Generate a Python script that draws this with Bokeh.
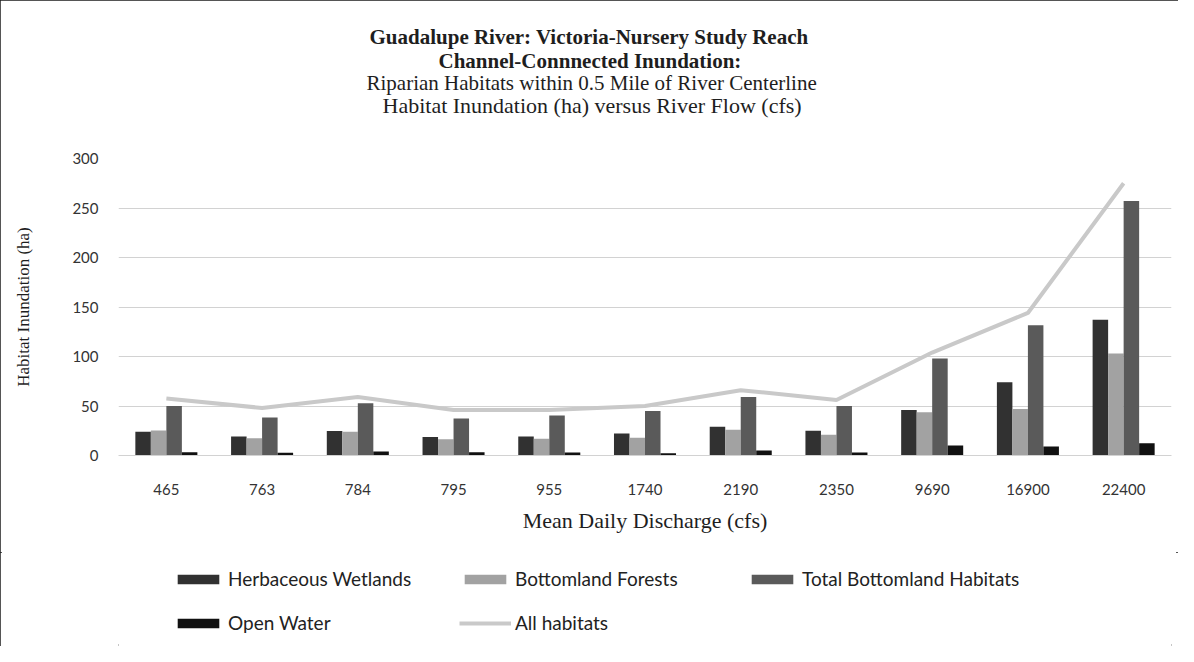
from bokeh.plotting import figure
from bokeh.layouts import column
from bokeh.models import (ColumnDataSource, FactorRange, Range1d, Title, Legend,
                          LegendItem, FixedTicker)
from bokeh.transform import dodge
from bokeh.embed import file_html
from bokeh.resources import INLINE

# ---- data ----
flows = ["465", "763", "784", "795", "955", "1740", "2190", "2350", "9690", "16900", "22400"]
herbaceous_wetlands = [24, 19.3, 24.7, 18.7, 19.3, 22.3, 29, 25, 46, 74, 137]
bottomland_forests = [25.3, 17.3, 24, 16.3, 17, 18, 26, 21, 43.6, 47, 103]
total_bottomland = [50, 38.3, 52.7, 37.3, 40.3, 45, 59, 50, 98, 131.5, 257]
open_water = [3.3, 2.7, 4, 3.3, 3, 2.3, 5, 3, 10, 9, 12.4]
all_habitats = [57.5, 48, 59, 46, 46, 50, 66, 56, 104, 144, 275]
y_ticks = [0, 50, 100, 150, 200, 250, 300]

series_names = ["Herbaceous Wetlands", "Bottomland Forests", "Total Bottomland Habitats",
                "Open Water", "All habitats"]
bar_colors = ["#313131", "#a2a2a2", "#5a5a5a", "#111111"]
line_color = "#c9c9c9"

src = ColumnDataSource(dict(flow=flows, hw=herbaceous_wetlands, bf=bottomland_forests,
                            tb=total_bottomland, ow=open_water, ah=all_habitats))

SERIF = "Liberation Serif"
SANS = "Lato"
W = 1178
H_MAIN = 552
H_LEG = 646 - H_MAIN
BORDER = "2px solid #1c1c1c"
# outline on both stacked plots, hiding only the seam between them
CLIP_TOP = ("polygon(0 0, 100% 0, 100% 100%, calc(100% - 2px) 100%, "
            "calc(100% - 2px) calc(100% - 2px), 2px calc(100% - 2px), 2px 100%, 0 100%)")
CLIP_BOTTOM = ("polygon(0 0, 2px 0, 2px 2px, calc(100% - 2px) 2px, calc(100% - 2px) 0, "
               "100% 0, 100% 100%, 0 100%)")

x_range = FactorRange(*flows, range_padding=0)


def add_series(fig):
    bw = 0.162
    cols = ["hw", "bf", "tb", "ow"]
    offsets = [-0.243, -0.081, 0.081, 0.243]
    rends = []
    for col, off, color in zip(cols, offsets, bar_colors):
        rends.append(fig.vbar(x=dodge("flow", off, range=fig.x_range), top=col, width=bw,
                              source=src, fill_color=color, line_color=None))
    rends.append(fig.line(x="flow", y="ah", source=src, line_color=line_color, line_width=4))
    return rends


p = figure(x_range=x_range, y_range=Range1d(0, 300),
           width=W, height=H_MAIN, output_backend="svg", toolbar_location=None,
           min_border_left=118, min_border_right=7, min_border_top=158, min_border_bottom=97,
           background_fill_color="white", border_fill_color="white")
p.outline_line_color = None
p.styles = {"outline": BORDER, "outline-offset": "-2px", "clip-path": CLIP_TOP}
add_series(p)

# grid & axes
p.xgrid.visible = False
p.ygrid.grid_line_color = "#d2d2d2"
p.ygrid.grid_line_width = 1
p.yaxis.ticker = FixedTicker(ticks=y_ticks)
for ax in (p.xaxis[0], p.yaxis[0]):
    ax.major_tick_line_color = None
    ax.minor_tick_line_color = None
    ax.major_label_text_font = SANS
    ax.major_label_text_font_size = "15px"
    ax.major_label_text_color = "#333333"
    ax.axis_label_text_font = SERIF
    ax.axis_label_text_font_style = "normal"
    ax.axis_label_text_color = "#1e1e1e"
p.yaxis.axis_line_color = None
p.xaxis.axis_line_color = "#d2d2d2"
p.yaxis.major_label_standoff = 14
p.xaxis.major_label_standoff = 22
p.yaxis.axis_label = "Habitat Inundation (ha)"
p.yaxis.axis_label_text_font_size = "17px"
p.yaxis.axis_label_standoff = 36
p.xaxis.axis_label = "Mean Daily Discharge (cfs)"
p.xaxis.axis_label_text_font_size = "22px"
p.xaxis.axis_label_standoff = 10

# titles (added closest-to-plot first); a blank spacer first
p.title.text = ""
p.add_layout(Title(text=" ", standoff=20, text_font=SERIF, text_font_size="19px"), "above")
title_lines = [
    ("Habitat Inundation (ha) versus River Flow (cfs)", "normal", "22px", 264, -4),
    ("Riparian Habitats within 0.5 Mile of River Centerline", "normal", "21px", 248, -4),
    ("Channel-Connnected Inundation:", "bold", "21px", 320, -4),
    ("Guadalupe River: Victoria-Nursery Study Reach", "bold", "21px", 251, 0),
]
for text, style, size, off, so in title_lines:
    t = Title(text=text, align="left", offset=off, standoff=so,
              text_font=SERIF, text_font_size=size, text_font_style=style,
              text_color="#1e1e1e")
    p.add_layout(t, "above")

# ---- legend strip: same series on a y-range that keeps them out of view ----
p2 = figure(x_range=x_range, y_range=Range1d(1000, 1001),
            width=W, height=H_LEG, output_backend="svg", toolbar_location=None,
            min_border_left=118, min_border_right=7, min_border_top=0, min_border_bottom=0,
            x_axis_location=None, y_axis_location=None,
            background_fill_color="white", border_fill_color="white")
p2.outline_line_color = None
p2.grid.visible = False
p2.styles = {"outline": BORDER, "outline-offset": "-2px", "clip-path": CLIP_BOTTOM}
swatches = add_series(p2)

legend = Legend(items=[LegendItem(label=n, renderers=[r]) for n, r in zip(series_names, swatches)],
                location=(54, 12), orientation="horizontal", ncols=3,
                glyph_width=52, glyph_height=12, label_height=20, label_width=210,
                label_standoff=4, spacing=21, padding=0, margin=0,
                border_line_color=None, background_fill_alpha=0,
                label_text_font=SANS, label_text_font_size="19px", label_text_color="#222222")
p2.add_layout(legend, "center")

layout = column(p, p2, spacing=0)

open("out.html", "w").write(file_html(layout, INLINE))
